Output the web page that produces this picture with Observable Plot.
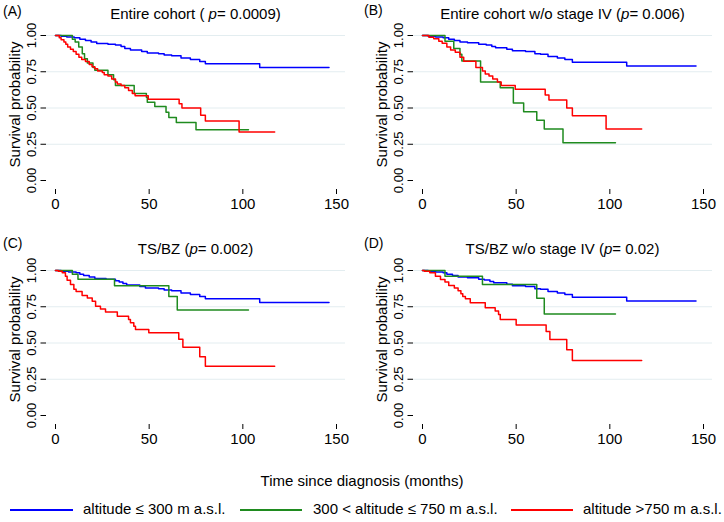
<!DOCTYPE html>
<html>
<head>
<meta charset="utf-8">
<script src="https://cdn.jsdelivr.net/npm/d3@7"></script>
<script src="https://cdn.jsdelivr.net/npm/@observablehq/plot@0.6"></script>
<style>
  body { margin: 0; background: #fff; }
  #root { position: relative; width: 724px; height: 522px; overflow: hidden; background: #fff;
          font-family: "Liberation Sans", Arial, Helvetica, sans-serif; color: #000; }
  .panel { position: absolute; width: 357px; height: 225px; }
  .panel svg { position: absolute; left: 0; top: 0; }
  .title { position: absolute; left: 46px; width: 299px; top: 5px; text-align: center;
           font-size: 15px; line-height: 18px; white-space: nowrap; }
  .tag { position: absolute; font-size: 14px; line-height: 16px; }
  .xlab { position: absolute; left: 0; width: 724px; top: 472px; text-align: center; font-size: 15px; line-height: 18px; }
  .leg { position: absolute; top: 500px; font-size: 15px; line-height: 18px; white-space: nowrap; }
  .sw { position: absolute; top: 509px; height: 2px; }
</style>
</head>
<body>
<div id="root"></div>
<script>
// ---- data (months since diagnosis, survival probability) ----
const groups = ["altitude ≤ 300 m a.s.l.", "300 < altitude ≤ 750 m a.s.l.", "altitude >750 m a.s.l."];
const colors = ["#0000ff", "#1f8b1f", "#ff0000"];
const xTicks = [0, 50, 100, 150];
const yTicks = [0, 0.25, 0.5, 0.75, 1];
const gridTicks = [0.25, 0.5, 0.75, 1];
const titles = ["Entire cohort ( ", "Entire cohort w/o stage IV (", "TS/BZ (", "TS/BZ w/o stage IV ("];
const pValues = ["= 0.0009)", "= 0.006)", "= 0.002)", "= 0.02)"];
const tags = ["(A)", "(B)", "(C)", "(D)"];

// Panel A: entire cohort
const A_low = [[0,1],[3,0.995],[6,0.99],[10,0.985],[13,0.975],[16,0.965],[19,0.955],[22,0.945],[28,0.94],[32,0.935],[35,0.925],[37,0.91],[40,0.9],[46,0.89],[49,0.88],[55,0.875],[58,0.865],[62,0.86],[67,0.845],[72,0.835],[77,0.82],[80,0.805],[109,0.78],[146,0.78]];
const A_mid = [[0,1],[9,0.975],[10.5,0.955],[12.4,0.92],[14.3,0.875],[15.5,0.84],[17,0.81],[20,0.78],[21,0.76],[28,0.73],[31,0.695],[32,0.655],[42,0.6],[48.5,0.575],[49,0.54],[53,0.51],[59,0.47],[60.5,0.435],[64.5,0.4],[75,0.35],[103,0.35]];
const A_high = [[0,1],[2,0.985],[3,0.97],[4.5,0.955],[5.5,0.94],[6.5,0.92],[8,0.905],[9.5,0.89],[11,0.87],[12.5,0.85],[14,0.835],[16,0.82],[18,0.8],[19.5,0.785],[21,0.77],[22.5,0.755],[25,0.745],[26,0.73],[28,0.72],[30,0.7],[32,0.68],[33,0.665],[35,0.655],[37,0.64],[39,0.62],[41,0.6],[42.5,0.585],[49.5,0.56],[66,0.53],[67.5,0.5],[77.5,0.45],[80,0.41],[98,0.335],[117,0.335]];

// Panel B: entire cohort without stage IV
const B_low = [[0,1],[3,0.995],[7,0.99],[11,0.985],[14,0.975],[17,0.965],[20,0.955],[24,0.95],[30,0.94],[34,0.935],[37,0.925],[39,0.915],[45,0.905],[48,0.895],[55,0.89],[60,0.875],[63,0.87],[67,0.855],[72,0.845],[76,0.835],[80,0.815],[109,0.79],[146,0.79]];
const B_mid = [[0,1],[12,0.96],[16.7,0.91],[20,0.87],[21,0.825],[31,0.68],[41.5,0.64],[48.5,0.535],[54,0.475],[61,0.415],[65,0.355],[75,0.26],[103,0.26]];
const B_high = [[0,1],[3.4,0.988],[6,0.977],[8.7,0.96],[10.5,0.947],[13,0.92],[15,0.9],[17.5,0.885],[20,0.85],[22,0.823],[28.5,0.78],[32,0.755],[33.5,0.735],[35.5,0.72],[37.5,0.7],[40,0.68],[42,0.655],[49.5,0.63],[65.5,0.59],[67.5,0.555],[77,0.5],[80,0.447],[98,0.355],[117,0.355]];

// Panel C: TS/BZ
const C_low = [[0,1],[3,0.995],[7,0.99],[11,0.985],[13,0.975],[15,0.965],[18,0.955],[21,0.945],[27,0.94],[32,0.93],[34,0.92],[36,0.91],[38,0.9],[45,0.89],[48,0.88],[55,0.875],[58,0.865],[62,0.86],[67,0.845],[72,0.835],[77,0.82],[80,0.805],[109,0.78],[146,0.78]];
const C_mid = [[0,1],[9,0.975],[12,0.94],[31.5,0.895],[60.5,0.82],[65,0.727],[103,0.727]];
const C_high = [[0,1],[1.5,0.995],[3.6,0.985],[5.3,0.96],[6.2,0.933],[8,0.903],[9.8,0.87],[11,0.855],[14.2,0.828],[17,0.81],[19.6,0.788],[21.4,0.754],[24,0.735],[26.7,0.713],[33,0.685],[39,0.662],[40,0.64],[41.8,0.616],[42.7,0.593],[49.8,0.57],[65.8,0.526],[68,0.47],[77,0.405],[80,0.34],[117,0.34]];

// Panel D: TS/BZ without stage IV
const D_low = [[0,1],[3,0.995],[7,0.99],[11,0.985],[13,0.975],[16,0.965],[19,0.955],[24,0.95],[30,0.94],[33,0.935],[36,0.925],[38,0.915],[45,0.905],[48,0.895],[55,0.89],[60,0.875],[63,0.87],[67,0.855],[72,0.845],[76,0.835],[80,0.815],[109,0.79],[146,0.79]];
const D_mid = [[0,1],[12,0.96],[32,0.903],[61,0.809],[65,0.7],[103,0.7]];
const D_high = [[0,1],[1,0.995],[3.9,0.984],[6.9,0.961],[9.6,0.938],[12,0.92],[14,0.897],[17,0.88],[19,0.86],[20.5,0.84],[21.5,0.82],[22.9,0.805],[25.5,0.777],[33.5,0.743],[38.8,0.72],[40.6,0.697],[41.5,0.662],[50,0.625],[66,0.579],[68,0.525],[77,0.453],[80,0.379],[117,0.379]];

const panelSeries = [[A_low, A_mid, A_high], [B_low, B_mid, B_high], [C_low, C_mid, C_high], [D_low, D_mid, D_high]];

// ---- layout ----
const panelPos = [[0, 0], [367, 0], [0, 235], [367, 235]];
const tagPos = [[3, 3], [364, 2], [3, 235], [364, 235]];

function makePlot(series) {
  const rows = [];
  series.forEach((pts, i) => pts.forEach(([t, s]) => rows.push({t, s, g: groups[i]})));
  return Plot.plot({
    width: 357, height: 225,
    marginLeft: 46, marginRight: 12, marginTop: 25, marginBottom: 36,
    insetLeft: 9, insetRight: 9, insetTop: 10, insetBottom: 9,
    style: {fontFamily: "'Liberation Sans', Arial, Helvetica, sans-serif", background: "transparent", color: "#000", overflow: "visible"},
    x: {domain: [0, 150]},
    y: {domain: [0, 1]},
    color: {domain: groups, range: colors},
    marks: [
      Plot.gridY(gridTicks, {stroke: "#e3edf0", strokeOpacity: 1, strokeWidth: 1}),
      Plot.line(rows, {x: "t", y: "s", z: "g", stroke: "g", curve: "step-after", strokeWidth: 1.5}),
      Plot.axisX({ticks: xTicks, tickSize: 5, tickPadding: 4, fontSize: 15, label: null, line: true, stroke: "#000"}),
      Plot.axisY({ticks: yTicks, tickSize: 5.5, tickPadding: 5, tickRotate: -90, tickFormat: d3.format(".2f"), fontSize: 13, label: null, line: true, stroke: "#000"}),
      Plot.text(["Survival probability"], {frameAnchor: "left", textAnchor: "middle", lineAnchor: "middle", dx: -31, dy: -3, rotate: -90, fontSize: 15, fill: "#000"})
    ]
  });
}

const root = document.getElementById("root");
panelSeries.forEach((series, k) => {
  const div = document.createElement("div");
  div.className = "panel";
  div.style.left = panelPos[k][0] + "px";
  div.style.top = panelPos[k][1] + "px";
  div.appendChild(makePlot(series));
  const t = document.createElement("div");
  t.className = "title";
  t.innerHTML = titles[k] + "<i>p</i>" + pValues[k];
  div.appendChild(t);
  root.appendChild(div);
  const tag = document.createElement("div");
  tag.className = "tag";
  tag.style.left = tagPos[k][0] + "px";
  tag.style.top = tagPos[k][1] + "px";
  tag.textContent = tags[k];
  root.appendChild(tag);
});

const xl = document.createElement("div");
xl.className = "xlab";
xl.textContent = "Time since diagnosis (months)";
root.appendChild(xl);

const legX = [[10, 73, 83], [240, 302, 313], [511, 573, 583]];
groups.forEach((g, i) => {
  const sw = document.createElement("div");
  sw.className = "sw";
  sw.style.left = legX[i][0] + "px";
  sw.style.width = (legX[i][1] - legX[i][0]) + "px";
  sw.style.background = colors[i];
  root.appendChild(sw);
  const lab = document.createElement("div");
  lab.className = "leg";
  lab.style.left = legX[i][2] + "px";
  lab.textContent = g;
  root.appendChild(lab);
});
</script>
</body>
</html>
